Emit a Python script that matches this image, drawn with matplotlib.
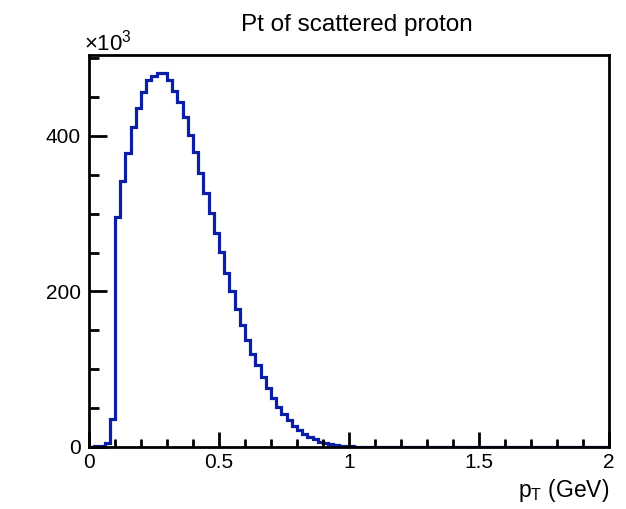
import numpy as np
import matplotlib
matplotlib.use("Agg")
import matplotlib.pyplot as plt
from matplotlib.ticker import MultipleLocator

plt.rcParams['font.family'] = ['Liberation Sans', 'DejaVu Sans']

title = "Pt of scattered proton"
xlabel = "p$_{\\mathregular{T}}$ (GeV)"
bin_edges = np.linspace(0.0, 2.0, 101)
# counts in units of 10^3 per bin (bin width 0.02 GeV)
counts_k = [0.5, 1.2, 1.4, 5, 36, 296, 342, 378, 411, 436,
            457, 472, 477, 481, 481, 472, 458, 444, 424, 401,
            379, 352, 326, 301, 275, 251, 224, 200, 178, 157,
            138, 120, 105, 90, 76, 63, 52, 43, 35, 27,
            22, 17, 13, 10, 7, 5, 3.5, 2.2, 1.5, 1.0,
            0.7, 0.5, 0.35, 0.25, 0.15, 0.1] + [0] * 44

fig = plt.figure(figsize=(6.26, 5.09), dpi=100)
ax = fig.add_axes([89/626, 62/509, (609-89)/626, (447-55)/509])

ax.stairs(counts_k, bin_edges, color='#0a1fa6', linewidth=2.3, baseline=None)

ax.set_xlim(0, 2)
ax.set_ylim(0, 504)
ax.xaxis.set_minor_locator(MultipleLocator(0.1))
ax.yaxis.set_minor_locator(MultipleLocator(50))
ax.set_xticks([0, 0.5, 1, 1.5, 2])
ax.set_xticklabels(["0", "0.5", "1", "1.5", "2"])
ax.set_yticks([0, 200, 400])
ax.set_yticklabels(["0", "200", "400"])

ax.tick_params(which='both', direction='in', top=False, right=False, width=2, labelsize=15)
ax.tick_params(axis='x', which='major', length=11, pad=4)
ax.tick_params(axis='x', which='minor', length=6)
ax.tick_params(axis='y', which='major', length=13, pad=6)
ax.tick_params(axis='y', which='minor', length=7)
for s in ax.spines.values():
    s.set_linewidth(2)

fig.text(357/626, 1 - 25/509, title, ha='center', va='center', fontsize=17.5)
fig.text(84/626, 1 - 43/509, "\u00d710$^{\\mathregular{3}}$", ha='left', va='center', fontsize=16)
fig.text(609/626, 1 - 491/509, xlabel, ha='right', va='center', fontsize=16.5)

fig.savefig("out.png", dpi=100)
